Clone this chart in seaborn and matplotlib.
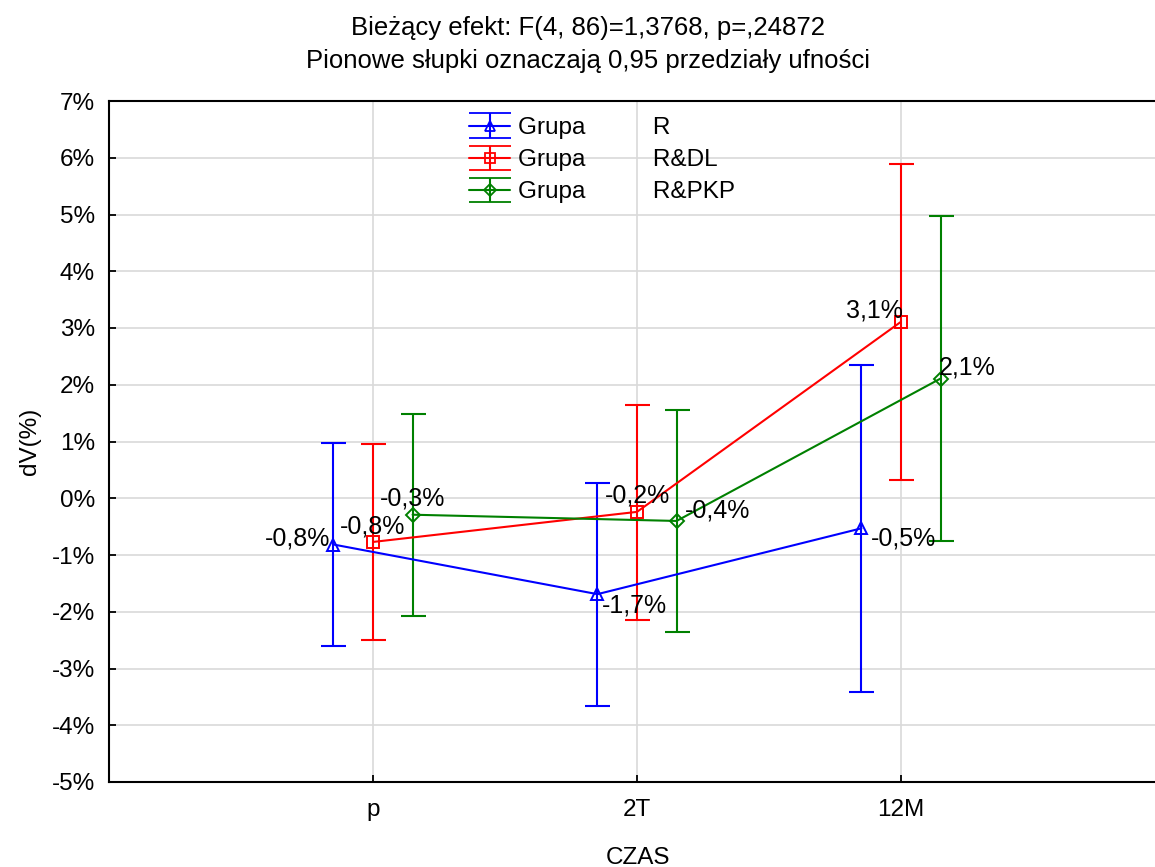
import numpy as np
import pandas as pd
import matplotlib
matplotlib.use("Agg")
import matplotlib.pyplot as plt
import seaborn as sns

czas = ["p", "2T", "12M"]
grupy = ["R", "R&DL", "R&PKP"]

# srednie i granice przedzialow ufnosci 0,95 (w %)
mean_r = [-0.815, -1.69, -0.53]
low_r = [-2.60, -3.66, -3.41]
high_r = [0.97, 0.27, 2.35]

mean_dl = [-0.77, -0.24, 3.11]
low_dl = [-2.50, -2.14, 0.33]
high_dl = [0.96, 1.65, 5.89]

mean_pkp = [-0.29, -0.40, 2.11]
low_pkp = [-2.07, -2.36, -0.76]
high_pkp = [1.49, 1.56, 4.98]

y_ticks = [-5, -4, -3, -2, -1, 0, 1, 2, 3, 4, 5, 6, 7]

colors = ["#0000ff", "#ff0000", "#008000"]
markers = ["^", "s", "D"]
marker_sizes = [8, 8, 7]
dodge = [-0.15, 0.0, 0.15]

# polozenie etykiet (ha, va, dx, dy w pikselach) dla grupy i punktu czasu
label_pos = [
    [("right", "center", -3, 6), ("left", "baseline", 4, -18), ("left", "baseline", 9, -17)],
    [("center", "baseline", 0, 8), ("center", "baseline", 0, 9), ("right", "baseline", 2, 4)],
    [("center", "baseline", 0, 9), ("left", "baseline", 8, 3), ("left", "baseline", -2, 4)],
]

means = [mean_r, mean_dl, mean_pkp]
lows = [low_r, low_dl, low_pkp]
highs = [high_r, high_dl, high_pkp]

rows = []
for g, name in enumerate(grupy):
    for i, t in enumerate(czas):
        rows.append({"grupa": name, "czas": t, "x": i + dodge[g],
                     "dV": means[g][i], "low": lows[g][i], "high": highs[g][i]})
df = pd.DataFrame(rows)

sns.set_theme(style="white")
plt.rcParams["font.family"] = ["Liberation Sans", "DejaVu Sans"]
plt.rcParams["text.color"] = "black"
plt.rcParams["axes.labelcolor"] = "black"
plt.rcParams["xtick.color"] = "black"
plt.rcParams["ytick.color"] = "black"

W, H = 1155, 867
fig = plt.figure(figsize=(W / 100, H / 100), dpi=100)
ax = fig.add_axes([109 / W, 1 - 782 / H, 1056 / W, 681 / H])

sns.lineplot(data=df, x="x", y="dV", hue="grupa", style="grupa",
             palette=colors, markers=markers, dashes=False, sort=False,
             legend=False, ax=ax, lw=1.5)
for g, line in enumerate(ax.lines[:3]):
    line.set_markersize(marker_sizes[g])
    line.set_markerfacecolor("none")
    line.set_markeredgecolor(colors[g])
    line.set_markeredgewidth(1.4)
    line.set_zorder(4)

handles = []
for g, name in enumerate(grupy):
    sub = df[df["grupa"] == name]
    yerr = [sub["dV"] - sub["low"], sub["high"] - sub["dV"]]
    ax.errorbar(sub["x"], sub["dV"], yerr=yerr, fmt="none", ecolor=colors[g],
                elinewidth=1.5, capsize=9, capthick=1.5, zorder=3)
    h = ax.errorbar([np.nan], [np.nan], yerr=[1.0], fmt="-" + markers[g],
                    color=colors[g], mfc="none", ms=marker_sizes[g] - 1, mew=1.3,
                    lw=1.5, capsize=15, capthick=1.5)
    handles.append(h)
    for i, (xv, yv) in enumerate(zip(sub["x"], sub["dV"])):
        ha, va, dx, dy = label_pos[g][i]
        txt = f"{yv:.1f}%".replace(".", ",")
        ax.annotate(txt, (xv, yv), xytext=(dx, dy), textcoords="offset pixels",
                    ha=ha, va=va, fontsize=18, color="black", zorder=5)

labels = [f"Grupa{' ' * 10}{name}" for name in grupy]
leg = ax.legend(handles, labels, loc="upper left", bbox_to_anchor=(469 / W, 1 - 117 / H),
                bbox_transform=fig.transFigure, frameon=False, fontsize=17.5,
                handlelength=1.7, handletextpad=0.3, labelspacing=0.42, borderpad=0,
                borderaxespad=0)
for t in leg.get_texts():
    t.set_color("black")

ax.set_xlim(-1, 3)
ax.set_ylim(-5, 7)
ax.set_xticks(range(len(czas)))
ax.set_xticklabels(czas)
ax.set_yticks(y_ticks)
ax.set_yticklabels([f"{v}%" for v in y_ticks])
ax.set_xlabel("")
ax.set_ylabel("")
ax.grid(True, color="#d9d9d9", lw=1.2)
ax.set_axisbelow(True)
ax.tick_params(direction="in", length=5, width=1.3, color="black",
               labelsize=17.5, labelcolor="black", top=False, right=False,
               left=True, bottom=True)
ax.tick_params(axis="y", pad=10)
ax.tick_params(axis="x", pad=12)
for side in ["left", "top", "bottom"]:
    ax.spines[side].set_visible(True)
    ax.spines[side].set_color("black")
    ax.spines[side].set_linewidth(1.5)
ax.spines["right"].set_visible(False)

fig.text(588 / W, 1 - 35 / H, "Bieżący efekt: F(4, 86)=1,3768, p=,24872",
         ha="center", va="baseline", fontsize=18.5, color="black")
fig.text(588 / W, 1 - 68 / H, "Pionowe słupki oznaczają 0,95 przedziały ufności",
         ha="center", va="baseline", fontsize=18.5, color="black")
fig.text(30 / W, 1 - 441 / H, "dV(%)", rotation=90, ha="center", va="center",
         fontsize=17.5, color="black")
fig.text(638 / W, 1 - 864 / H, "CZAS", ha="center", va="baseline", fontsize=17.5,
         color="black")

fig.savefig("out.png", dpi=100)
